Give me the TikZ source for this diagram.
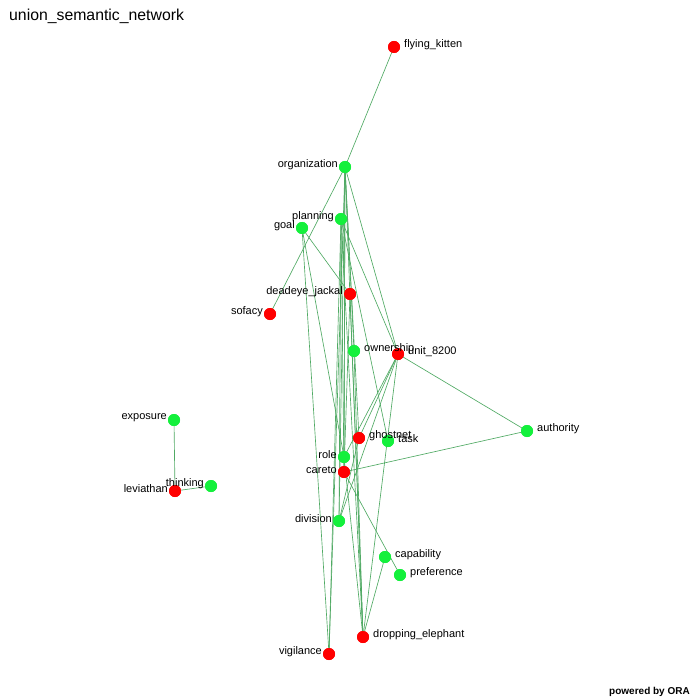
\documentclass[tikz,border=0pt]{standalone}
\usepackage{fontspec}
\setmainfont{Liberation Sans}
\definecolor{nodered}{RGB}{255,0,0}
\definecolor{nodegreen}{RGB}{20,240,60}
\definecolor{edgegreen}{RGB}{80,170,100}
\begin{document}
\begin{tikzpicture}[x=1pt,y=-1pt,
  vtx/.style={circle,inner sep=0pt,minimum size=12pt},
  actor/.style={vtx,fill=nodered},
  concept/.style={vtx,fill=nodegreen},
  link/.style={draw=edgegreen,line width=0.65pt},
  lbl/.style={font=\fontsize{11}{13}\selectfont,inner sep=0pt},
  lleft/.style={lbl,anchor=east,xshift=-7pt,yshift=2.5pt},
  lright/.style={lbl,anchor=west,xshift=10pt,yshift=2.5pt}]
% canvas
\fill[white] (0,0) rectangle (700,700);
\useasboundingbox (0,0) rectangle (700,700);

% vertices
\node[actor]   (kitten)   at (394,47)  {};
\node[concept] (org)      at (345,167) {};
\node[concept] (plan)     at (341,219) {};
\node[concept] (goal)     at (302,228) {};
\node[actor]   (deadeye)  at (350,294) {};
\node[actor]   (sofacy)   at (270,314) {};
\node[concept] (own)      at (354,351) {};
\node[actor]   (unit)     at (398,354) {};
\node[concept] (exposure) at (174,420) {};
\node[concept] (auth)     at (527,431) {};
\node[actor]   (ghost)    at (359,438) {};
\node[concept] (task)     at (388,441) {};
\node[concept] (role)     at (344,457) {};
\node[actor]   (careto)   at (344,472) {};
\node[actor]   (lev)      at (175,491) {};
\node[concept] (think)    at (211,486) {};
\node[concept] (div)      at (339,521) {};
\node[concept] (cap)      at (385,557) {};
\node[concept] (pref)     at (400,575) {};
\node[actor]   (vig)      at (329,654) {};
\node[actor]   (drop)     at (363,637) {};

% links
\foreach \a/\b in {kitten/org, org/sofacy, org/unit, org/vig, org/drop, org/div,
  org/role, org/careto, org/ghost, org/own, plan/unit, plan/task, plan/vig,
  plan/drop, plan/careto, plan/div, goal/deadeye, goal/vig, goal/role,
  deadeye/drop, deadeye/careto, own/drop, unit/auth, unit/role, unit/div,
  unit/ghost, unit/drop, careto/auth, careto/pref, cap/drop, ghost/div,
  role/drop, exposure/lev, lev/think}
  \draw[link] (\a.center) -- (\b.center);

% redraw vertices above the links
\foreach \n/\s in {kitten/actor, org/concept, plan/concept, goal/concept,
  deadeye/actor, sofacy/actor, own/concept, unit/actor, exposure/concept,
  auth/concept, ghost/actor, task/concept, role/concept, careto/actor,
  lev/actor, think/concept, div/concept, cap/concept, pref/concept,
  vig/actor, drop/actor}
  \node[\s] at (\n) {};

% vertex labels
\node[lright] (kittenL)   at (kitten)   {flying\_kitten};
\node[lleft]  (orgL)      at (org)      {organization};
\node[lleft]  (planL)     at (plan)     {planning};
\node[lleft]  (goalL)     at (goal)     {goal};
\node[lleft]  (deadeyeL)  at (deadeye)  {deadeye\_jackal};
\node[lleft]  (sofacyL)   at (sofacy)   {sofacy};
\node[lright] (ownL)      at (own)      {ownership};
\node[lright] (unitL)     at (unit)     {unit\_8200};
\node[lleft]  (exposureL) at (exposure) {exposure};
\node[lright] (authL)     at (auth)     {authority};
\node[lright] (ghostL)    at (ghost)    {ghostnet};
\node[lright] (taskL)     at (task)     {task};
\node[lleft]  (roleL)     at (role)     {role};
\node[lleft]  (caretoL)   at (careto)   {careto};
\node[lleft]  (levL)      at (lev)      {leviathan};
\node[lleft]  (thinkL)    at (think)    {thinking};
\node[lleft]  (divL)      at (div)      {division};
\node[lright] (capL)      at (cap)      {capability};
\node[lright] (prefL)     at (pref)     {preference};
\node[lleft]  (vigL)      at (vig)      {vigilance};
\node[lright] (dropL)     at (drop)     {dropping\_elephant};

% title and footer
\node[anchor=west,inner sep=0pt,font=\fontsize{15.8}{18}\selectfont] (title) at (9,16) {union\_semantic\_network};
\node[anchor=east,inner sep=0pt,font=\fontsize{10}{12}\selectfont\bfseries] (footer) at (690,692) {powered by ORA};
\end{tikzpicture}
\end{document}
